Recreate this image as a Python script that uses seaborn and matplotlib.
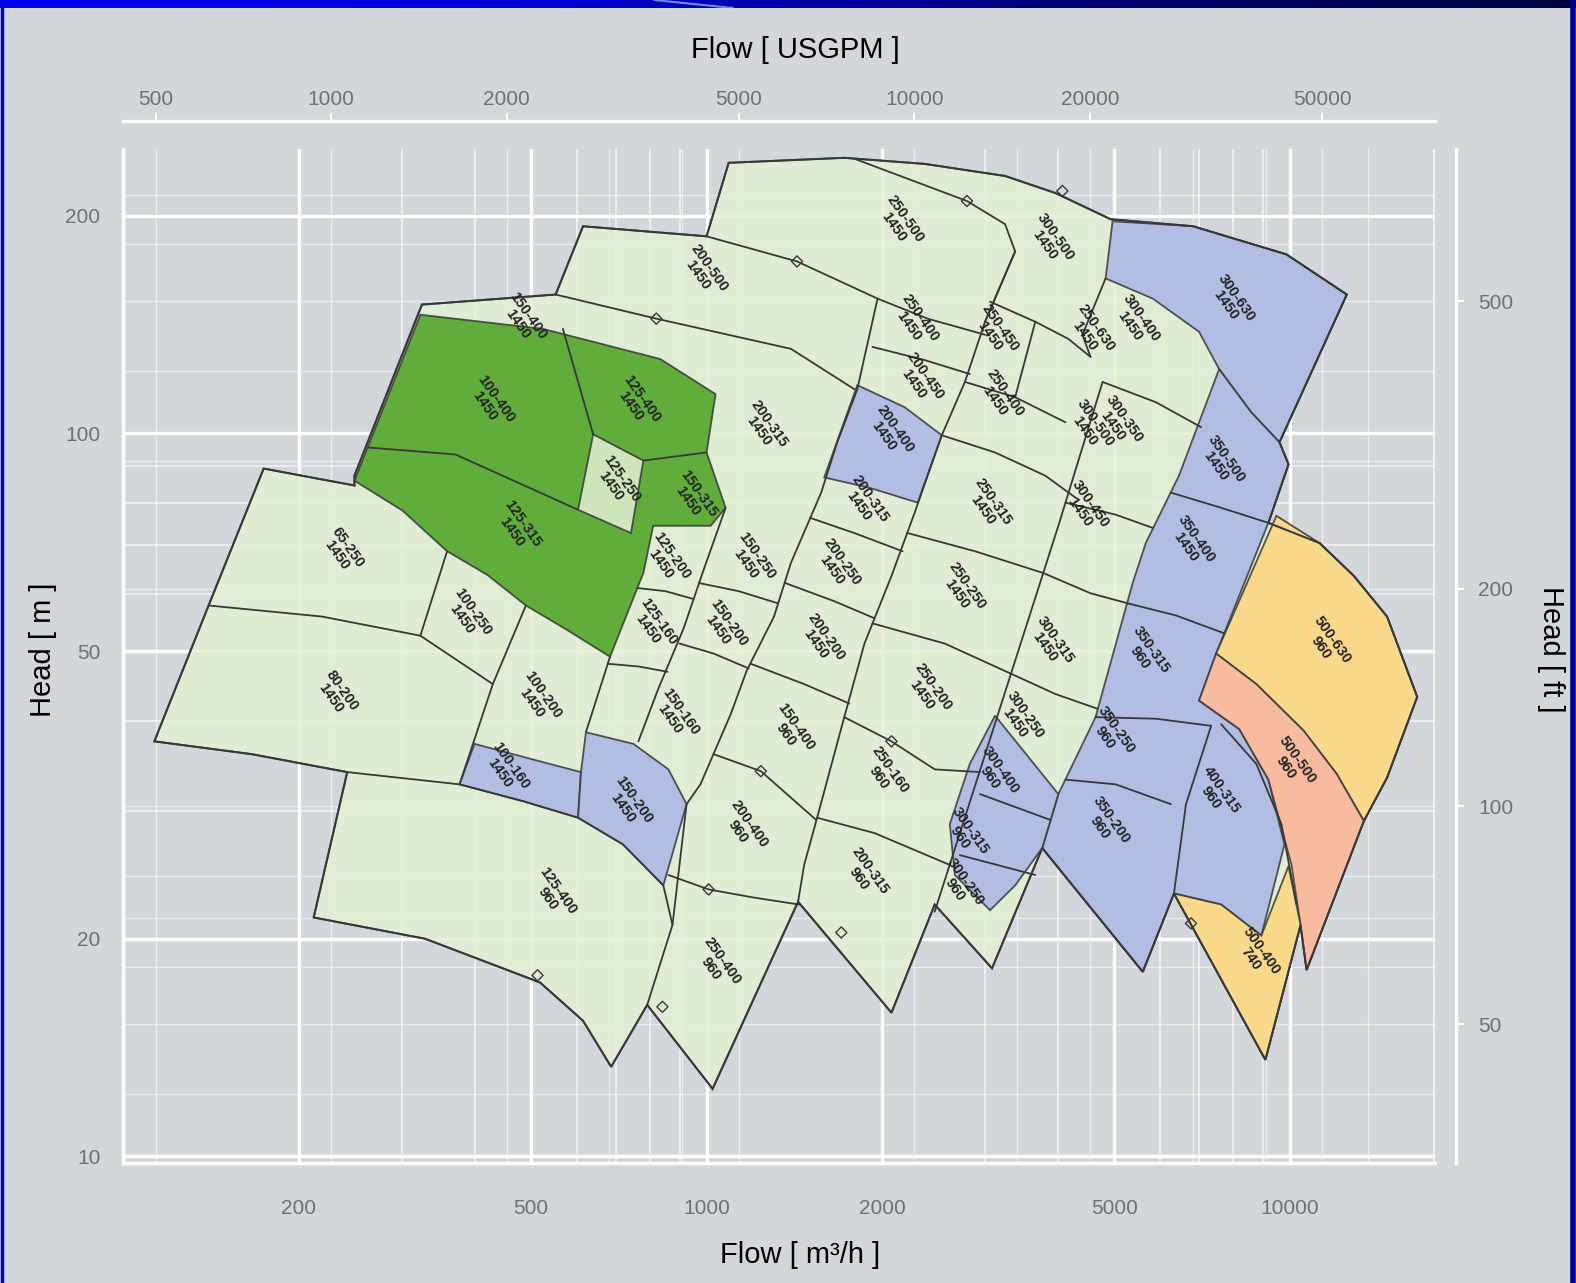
import numpy as np
import matplotlib
matplotlib.use("Agg")
import matplotlib.pyplot as plt
import seaborn as sns
import pandas as pd
from matplotlib.lines import Line2D

# ---------------- axis data ----------------
flow_ticks = [200, 500, 1000, 2000, 5000, 10000]
gpm_ticks = [500, 1000, 2000, 5000, 10000, 20000, 50000]
head_ticks = [10, 20, 50, 100, 200]
ft_ticks = [50, 100, 200, 500]
GPM_PER_M3H = 4.40287
FT_PER_M = 3.28084

# ---------------- field outline (flow m3/h, head m) ----------------
field_q = [174, 249, 249, 325, 551, 614, 1000, 1091, 1722, 2365, 3249, 3963, 4928, 6824, 9869,
           12522, 9600, 9948, 9189, 11250, 12875, 14679, 16535, 14679, 13396, 10684, 10433, 9081,
           6329, 5596, 3763, 3086, 2461, 2075, 1435, 1024, 791, 686, 614, 518, 329, 212, 242, 166,
           113, 140]
field_h = [89.4, 84.7, 87.4, 150.7, 155.6, 193.4, 187.3, 236.7, 240.5, 235.9, 227.0, 215.0, 197.8,
           193.4, 176.8, 155.6, 97.2, 90.6, 75.2, 70.5, 63.5, 55.8, 43.2, 33.4, 29.1, 18.1, 20.9,
           13.6, 23.1, 18.0, 26.7, 18.2, 22.3, 15.8, 22.5, 12.4, 16.2, 13.3, 15.4, 17.4, 20.0, 21.4,
           34.0, 36.0, 37.5, 57.8]

# ---------------- coloured tiles ----------------
green_q = [249, 323, 524, 833, 1036, 1000, 1078, 1016, 810, 779, 683, 578, 490, 421, 359, 301]
green_h = [86.0, 145.9, 139.5, 126.7, 113.3, 94.1, 78.9, 74.5, 74.5, 64.1, 49.1, 53.4, 57.8, 63.7,
           68.7, 78.2]
notch_q = [639, 779, 742, 602]
notch_h = [99.7, 91.7, 72.8, 78.4]

blue0_q = [400, 524, 609, 602, 484, 377]
blue0_h = [37.2, 35.1, 34.0, 29.4, 31.0, 32.7]
blue1_q = [621, 749, 860, 924, 843, 719, 602, 609]
blue1_h = [38.6, 37.2, 34.3, 30.7, 23.7, 27.0, 29.4, 34.0]
blue2_q = [1813, 2185, 2531, 2301, 1901, 1591]
blue2_h = [116.6, 108.7, 99.4, 80.2, 84.1, 86.9]
blue_top_q = [4967, 6824, 9869, 12522, 9600, 8590, 7565, 6988, 5822, 4832]
blue_top_h = [196.5, 193.4, 176.8, 155.6, 97.2, 106.9, 122.7, 138.2, 153.6, 163.8]
blue_col_q = [7565, 8590, 9600, 9948, 9189, 7476, 6988, 8190, 9189, 9791, 8938, 7625, 6329, 5596,
              3763, 4010, 4644, 5378, 5662, 6456]
blue_col_h = [122.7, 106.9, 97.2, 90.6, 75.2, 49.6, 42.7, 39.0, 33.2, 27.0, 20.2, 22.3, 23.1, 18.0,
              26.7, 31.7, 40.5, 62.1, 70.5, 87.4]
blue_mid_q = [3123, 4010, 3763, 3381, 3062, 2665, 2612, 2827]
blue_mid_h = [40.7, 31.7, 26.7, 23.7, 21.9, 24.5, 28.8, 34.9]
orange_top_q = [9486, 11250, 12875, 14679, 16535, 14679, 13396, 12035, 10558, 8762, 7476]
orange_top_h = [76.9, 70.5, 63.5, 55.8, 43.2, 33.4, 29.1, 33.8, 38.8, 45.0, 49.6]
salmon_q = [7476, 8762, 10558, 12035, 13396, 10684, 10433, 10067, 9189, 8190, 6988]
salmon_h = [49.6, 45.0, 38.8, 33.8, 29.1, 18.1, 20.9, 25.3, 33.2, 39.0, 42.7]
orange_low_q = [6329, 7625, 8938, 9948, 10433, 9081]
orange_low_h = [23.1, 22.3, 20.2, 25.2, 20.9, 13.6]

# ---------------- dividing curves and limit lines (flow, head) ----------------
div_a_q = [140, 219, 323, 430];             div_a_h = [57.8, 55.8, 52.5, 45.0]
div_b_q = [359, 323];                       div_b_h = [68.7, 52.5]
div_c_q = [490, 430, 377];                  div_c_h = [57.8, 45.0, 32.7]
div_d_q = [683, 621];                       div_d_h = [49.1, 38.6]
div_e_q = [242, 377, 484, 602, 719, 843, 874, 791]
div_e_h = [34.0, 32.7, 31.0, 29.4, 27.0, 23.7, 20.9, 16.2]
div_f_q = [263, 371, 602];                  div_f_h = [95.6, 93.5, 78.4]
div_g_q = [567, 639];                       div_g_h = [139.5, 99.7]
div_h_q = [779, 1000];                      div_h_h = [91.7, 94.1]
top_curve_q = [1000, 1429, 1964, 2393, 3002]
top_curve_h = [187.3, 172.9, 153.6, 144.1, 136.9]
k_split_q = [1792, 2795, 3249, 3381, 3002]
k_split_h = [239.8, 209.6, 194.7, 178.5, 142.7]
c2_bottom_q = [551, 820, 1395, 1792]
c2_bottom_h = [155.6, 144.1, 130.9, 115.1]
edge1_q = [874, 924, 976, 1100, 1172, 1305, 1395, 1572, 1675, 1813, 1964]
edge1_h = [20.9, 30.7, 32.7, 40.9, 47.0, 55.8, 66.2, 82.8, 97.2, 115.1, 153.6]
edge2_q = [1435, 1470, 1547, 1722, 1865, 2075, 2274, 2531, 2773, 3002, 3381]
edge2_h = [22.5, 25.3, 29.4, 40.5, 51.2, 63.5, 77.7, 99.4, 117.8, 142.7, 178.5]
edge3_q = [2461, 3148, 4010, 4410, 4775]
edge3_h = [21.8, 40.5, 74.5, 95.6, 117.8]
edge_h_q = [1078, 988, 913, 826, 764]
edge_h_h = [78.9, 64.7, 53.7, 44.3, 37.5]
m1_q = [1505, 1792, 2168];    m1_h = [76.4, 72.8, 68.7]
m2_q = [1363, 1655, 1940];    m2_h = [62.1, 58.6, 55.5]
m3_q = [1191, 1470, 1757];    m3_h = [48.0, 45.0, 42.3]
m4_q = [1028, 1239, 1541];    m4_h = [36.0, 34.1, 29.2]
r1_q = [2211, 2885, 3778, 4552, 5273];  r1_h = [72.8, 68.7, 64.1, 60.1, 58.2]
r2_q = [1925, 2561, 3328, 3963, 4681];  r2_h = [54.6, 51.2, 46.5, 43.6, 41.6]
r3_q = [1722, 2075, 2461, 2943];        r3_h = [40.5, 37.5, 34.3, 34.0]
r4_q = [1547, 1940, 2612];              r4_h = [29.4, 28.0, 25.3]
l1_q = [761, 850, 950];       l1_h = [61.1, 60.5, 59.0]
l2_q = [678, 764, 857];       l2_h = [48.0, 47.6, 46.8]
l3_q = [969, 1135, 1326];     l3_h = [62.1, 60.5, 58.2]
l4_q = [899, 1028, 1181];     l4_h = [51.2, 49.6, 47.3]
k1_q = [1925, 2365, 2827];    k1_h = [131.7, 126.3, 120.8]
k2_q = [3062, 3661, 4172, 4552];  k2_h = [152.1, 142.7, 135.1, 127.6]
k3_q = [2773, 3381, 4123];    k3_h = [117.8, 112.2, 103.6]
k4_q = [2531, 3123, 3808, 4290];  k4_h = [99.4, 94.1, 87.4, 81.5]
k5_q = [3661, 3381];          k5_h = [142.7, 112.2]
k6_q = [4775, 5898, 7045];    k6_h = [117.8, 110.4, 102.0]
k7_q = [4123, 5028, 5822];    k7_h = [80.2, 77.2, 74.0]
k8_q = [4832, 4410, 4552];    k8_h = [163.8, 136.9, 127.6]
b1_q = [6253, 7625, 9189];    b1_h = [82.8, 78.9, 75.2]
b2_q = [5273, 6379, 7718];    b2_h = [58.2, 56.0, 52.9]
b3_q = [4644, 5898, 7330];    b3_h = [40.5, 40.3, 39.4]
b4_q = [4123, 5028, 6253];    b4_h = [33.2, 32.7, 30.7]
b5_q = [6329, 6637, 7330];    b5_h = [23.1, 30.7, 39.4]
g1_q = [2943, 3885];          g1_h = [31.7, 29.2]
g2_q = [2718, 3661];          g2_h = [26.1, 24.5]
s1_q = [7625, 8762, 9677, 10269]; s1_h = [39.6, 34.9, 28.8, 22.3]
t2_q = [860, 1008, 1205, 1441];   t2_h = [24.5, 23.4, 22.8, 22.3]

# ---------------- best efficiency markers ----------------
bep_q = [840, 1008, 1429, 2795, 4074, 820, 6770, 1702, 513, 1239, 2075]
bep_h = [16.1, 23.4, 172.9, 209.6, 216.4, 144.1, 21.0, 20.4, 17.8, 34.1, 37.5]

# ---------------- tile labels ----------------
lab_q = [237, 232, 389, 513, 452, 734, 545, 426, 758, 474, 950, 700, 484, 988, 2142, 3885, 7934,
         2059, 1254, 2274, 2320, 3123, 3185, 4552, 4552, 4463, 853, 810, 1191, 1070, 884, 1865,
         1675, 1572, 1395, 1158, 1040, 1865, 3037, 2740, 2393, 2018, 3885, 3448, 7625, 6770, 5662,
         4928, 4832, 7476, 11567, 10067, 8762, 3123, 2773, 2718, 5443, 5088]
lab_h = [68.7, 43.6, 56.0, 42.9, 34.3, 30.7, 23.0, 110.4, 110.4, 74.0, 81.5, 85.5, 143.6, 167.5,
         195.3, 184.4, 152.1, 100.3, 102.0, 142.7, 118.5, 138.2, 112.2, 138.2, 102.0, 78.9, 66.8,
         54.3, 66.8, 54.1, 40.7, 80.2, 65.5, 51.7, 38.8, 28.5, 18.4, 24.5, 79.4, 60.7, 44.0, 33.8,
         51.2, 40.3, 91.1, 70.5, 49.6, 38.4, 28.8, 31.7, 51.2, 34.9, 19.0, 33.8, 27.9, 23.7, 142.7,
         103.6]
lab_text = ["65-250", "80-200", "100-250", "100-200", "100-160", "150-200", "125-400", "100-400",
            "125-400", "125-315", "150-315", "125-250", "150-400", "200-500", "250-500", "300-500",
            "300-630", "200-400", "200-315", "250-400", "200-450", "250-450", "250-400", "250-630",
            "300-500", "300-450", "125-200", "125-160", "150-250", "150-200", "150-160", "200-315",
            "200-250", "200-200", "150-400", "200-400", "250-400", "200-315", "250-315", "250-250",
            "250-200", "250-160", "300-315", "300-250", "350-500", "350-400", "350-315", "350-250",
            "350-200", "400-315", "500-630", "500-500", "500-400", "300-400", "300-315", "300-250",
            "300-400", "300-350"]
lab_rpm = ["1450", "1450", "1450", "1450", "1450", "1450", "960", "1450", "1450", "1450", "1450",
           "1450", "1450", "1450", "1450", "1450", "1450", "1450", "1450", "1450", "1450", "1450",
           "1450", "1450", "1450", "1450", "1450", "1450", "1450", "1450", "1450", "1450", "1450",
           "1450", "960", "960", "960", "960", "1450", "1450", "1450", "960", "1450", "1450",
           "1450", "1450", "960", "960", "960", "960", "960", "960", "740", "960", "960", "960",
           "1450", "1450"]

# ---------------- styling ----------------
BG = "#d3d6da"
C_PALE = "#e3f0d3"
C_GREEN = "#4aa220"
C_BLUE = "#aab5e6"
C_ORANGE = "#ffd67e"
C_SALMON = "#feb396"
EDGE = "#383838"

sns.set_theme(style="white")
plt.rcParams["font.family"] = ["Liberation Sans", "DejaVu Sans"]

W, H = 1576, 1283
fig = plt.figure(figsize=(W / 100, H / 100), dpi=100)
fig.patch.set_facecolor(BG)

RW, RH = 1568.0, 1276.0  # reference layout units
def fx(x):
    return x / RW
def fy(y):
    return 1 - y / RH

ax = fig.add_axes([fx(122), fy(1157), fx(1428) - fx(122), fy(148) - fy(1157)])
ax.set_facecolor(BG)
ax.set_xscale("log")
ax.set_yscale("log")
ax.set_xlim(99.7, 17760)
ax.set_ylim(9.78, 247.5)

# grid: major, minor and secondary-unit lines
for dec in [100, 1000, 10000]:
    for k in range(1, 10):
        v = k * dec
        if 99.7 < v < 17760:
            major = k in (1, 2, 5)
            ax.axvline(v, color="white", lw=2.4 if major else 1.1, alpha=1 if major else 0.75, zorder=0.5)
for v in gpm_ticks + [3000, 4000, 15000, 30000, 40000, 60000]:
    ax.axvline(v / GPM_PER_M3H, color="white", lw=1.0, alpha=0.55, zorder=0.5)
for dec in [10, 100]:
    for k in range(1, 10):
        v = k * dec
        if 9.78 < v < 247.5:
            major = k in (1, 2, 5)
            ax.axhline(v, color="white", lw=2.4 if major else 1.1, alpha=1 if major else 0.75, zorder=0.5)
for v in ft_ticks + [40, 60, 70, 80, 300, 400, 600, 700]:
    ax.axhline(v / FT_PER_M, color="white", lw=1.0, alpha=0.55, zorder=0.5)
ax.axvline(17700, color="white", lw=1.2, alpha=0.8, zorder=0.5)

# tiles
ax.fill(field_q, field_h, facecolor=C_PALE, edgecolor=EDGE, lw=1.4, alpha=0.85, zorder=2)
tiles = [
    (green_q, green_h, C_GREEN), (notch_q, notch_h, C_PALE),
    (blue0_q, blue0_h, C_BLUE), (blue1_q, blue1_h, C_BLUE), (blue2_q, blue2_h, C_BLUE),
    (blue_top_q, blue_top_h, C_BLUE), (blue_col_q, blue_col_h, C_BLUE),
    (blue_mid_q, blue_mid_h, C_BLUE), (orange_top_q, orange_top_h, C_ORANGE),
    (salmon_q, salmon_h, C_SALMON), (orange_low_q, orange_low_h, C_ORANGE),
]
for q, h, c in tiles:
    ax.fill(q, h, facecolor=c, edgecolor=EDGE, lw=1.3, alpha=0.85, zorder=3)
ax.fill(field_q, field_h, facecolor="none", edgecolor=EDGE, lw=1.4, zorder=4)

divs = [(div_a_q, div_a_h), (div_b_q, div_b_h), (div_c_q, div_c_h), (div_d_q, div_d_h),
        (div_e_q, div_e_h), (div_f_q, div_f_h), (div_g_q, div_g_h), (div_h_q, div_h_h),
        (top_curve_q, top_curve_h), (k_split_q, k_split_h), (c2_bottom_q, c2_bottom_h),
        (edge1_q, edge1_h), (edge2_q, edge2_h), (edge3_q, edge3_h), (edge_h_q, edge_h_h),
        (m1_q, m1_h), (m2_q, m2_h), (m3_q, m3_h), (m4_q, m4_h),
        (r1_q, r1_h), (r2_q, r2_h), (r3_q, r3_h), (r4_q, r4_h),
        (l1_q, l1_h), (l2_q, l2_h), (l3_q, l3_h), (l4_q, l4_h),
        (k1_q, k1_h), (k2_q, k2_h), (k3_q, k3_h), (k4_q, k4_h), (k5_q, k5_h), (k6_q, k6_h),
        (k7_q, k7_h), (k8_q, k8_h),
        (b1_q, b1_h), (b2_q, b2_h), (b3_q, b3_h), (b4_q, b4_h), (b5_q, b5_h),
        (g1_q, g1_h), (g2_q, g2_h), (s1_q, s1_h), (t2_q, t2_h)]
for q, h in divs:
    ax.plot(q, h, color=EDGE, lw=1.3, zorder=4, solid_joinstyle="round")

bep = pd.DataFrame({"q": bep_q, "h": bep_h})
sns.scatterplot(data=bep, x="q", y="h", marker="D", s=32, facecolor="none",
                edgecolor=EDGE, linewidth=1.0, ax=ax, zorder=5)

for q, h, t, r in zip(lab_q, lab_h, lab_text, lab_rpm):
    ax.text(q, h, t + "\n" + r, rotation=-55, ha="center", va="center", fontsize=10.5,
            fontweight="bold", color="#222222", linespacing=0.95, zorder=6,
            rotation_mode="anchor")

# axes styling
for s in ["top", "right"]:
    ax.spines[s].set_visible(False)
for s in ["left", "bottom"]:
    ax.spines[s].set_color("white")
    ax.spines[s].set_linewidth(2.4)
ax.set_xticks(flow_ticks)
ax.set_xticklabels([str(v) for v in flow_ticks])
ax.set_yticks(head_ticks)
ax.set_yticklabels([str(v) for v in head_ticks])
ax.xaxis.set_minor_locator(matplotlib.ticker.NullLocator())
ax.yaxis.set_minor_locator(matplotlib.ticker.NullLocator())
ax.tick_params(axis="x", colors="white", labelcolor="#707070", labelsize=15, length=6, width=1.5, pad=20)
ax.tick_params(axis="y", colors="white", labelcolor="#707070", labelsize=15, length=6, width=1.5, pad=10)
ax.set_xlabel("")
ax.set_ylabel("")

secx = ax.secondary_xaxis("top", functions=(lambda q: q * GPM_PER_M3H, lambda g: g / GPM_PER_M3H))
secx.set_xticks(gpm_ticks)
secx.set_xticklabels([str(v) for v in gpm_ticks])
secx.xaxis.set_minor_locator(matplotlib.ticker.NullLocator())
secx.spines["top"].set_position(("outward", 20))
secx.spines["top"].set_color("white")
secx.spines["top"].set_linewidth(2.4)
secx.tick_params(colors="white", labelcolor="#707070", labelsize=15, length=6, width=1.5, pad=2.5)

secy = ax.secondary_yaxis("right", functions=(lambda m: m * FT_PER_M, lambda f: f / FT_PER_M))
secy.set_yticks(ft_ticks)
secy.set_yticklabels([str(v) for v in ft_ticks])
secy.yaxis.set_minor_locator(matplotlib.ticker.NullLocator())
secy.spines["right"].set_position(("outward", 15))
secy.spines["right"].set_color("white")
secy.spines["right"].set_linewidth(2.4)
secy.tick_params(colors="white", labelcolor="#707070", labelsize=15, length=6, width=1.5, pad=10)

# titles
fig.text(fx(791), fy(50), "Flow [ USGPM ]", ha="center", va="center", fontsize=21, color="black")
fig.text(fx(796), fy(1248), "Flow [ m³/h ]", ha="center", va="center", fontsize=21, color="black")
fig.text(fx(43), fy(646), "Head [ m ]", ha="center", va="center", fontsize=21, rotation=90, color="black")
fig.text(fx(1543), fy(646), "Head [ ft ]", ha="center", va="center", fontsize=21, rotation=-90, color="black")

# slide frame: blue gradient bar at the top and thin side borders
bar = fig.add_axes([0, 1 - 8 / H, 1, 8 / H])
grad = np.linspace(0, 1, 512)[None, :]
cmap = matplotlib.colors.LinearSegmentedColormap.from_list("frame", ["#0000f0", "#0000d8", "#00007a", "#000040"])
bar.imshow(grad, aspect="auto", cmap=cmap, extent=[0, 1, 0, 1])
bar.plot([0.415, 0.465], [1, 0], color="#8fa8ff", lw=1.5, alpha=0.8)
bar.set_xlim(0, 1); bar.set_ylim(0, 1)
bar.axis("off")
fig.add_artist(Line2D([1.5 / W, 1.5 / W], [0, 1], color="#0000e0", lw=2.5))
fig.add_artist(Line2D([1 - 3 / W, 1 - 3 / W], [0, 1], color="#000090", lw=4))

fig.savefig("out.png", dpi=100, facecolor=fig.get_facecolor())
